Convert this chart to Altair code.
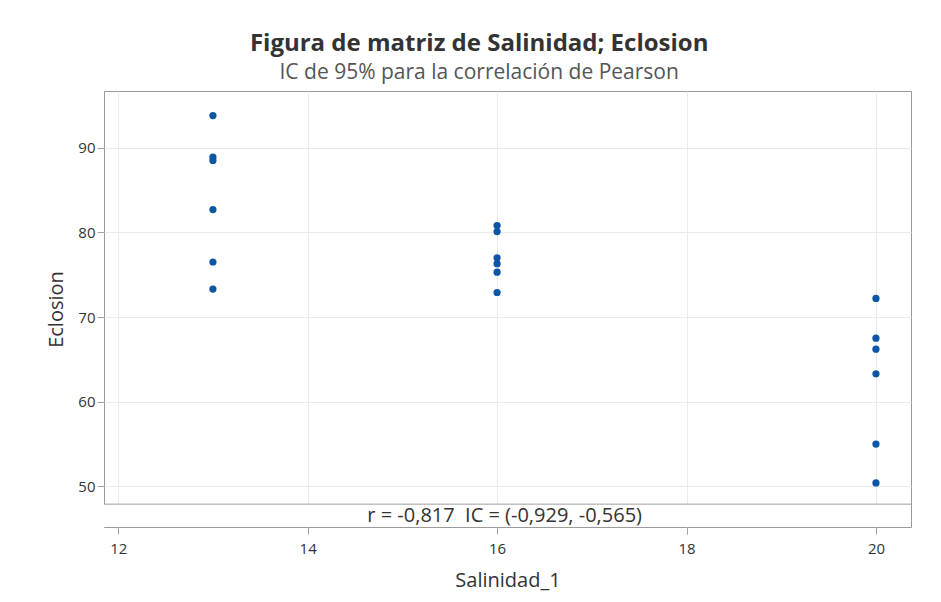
import altair as alt
import pandas as pd

salinidad = [13, 13, 13, 13, 13, 13,
             16, 16, 16, 16, 16, 16,
             20, 20, 20, 20, 20, 20]
eclosion = [93.8, 88.9, 88.5, 82.7, 76.5, 73.3,
            80.8, 80.1, 77.0, 76.3, 75.3, 72.9,
            72.2, 67.5, 66.2, 63.3, 55.0, 50.4]

x_ticks = [12, 14, 16, 18, 20]
y_ticks = [50, 60, 70, 80, 90]
x_domain = [11.85, 20.37]
y_domain = [45.2, 96.7]
box_top = 47.9
annot_text = "r = -0,817\u00a0\u00a0IC = (-0,929, -0,565)"
annot_x = 16.08

FONT = "Open Sans"

df = pd.DataFrame({"Salinidad_1": salinidad, "Eclosion": eclosion})
box_df = pd.DataFrame({"x": [x_domain[0]], "x2": [x_domain[1]],
                       "y": [y_domain[0]], "y2": [box_top]})
txt_df = pd.DataFrame({"x": [annot_x], "y": [(y_domain[0] + box_top) / 2],
                       "t": [annot_text]})

xs = alt.Scale(domain=x_domain, nice=False, zero=False)
ys = alt.Scale(domain=y_domain, nice=False, zero=False)

xax = alt.Axis(values=x_ticks, title="Salinidad_1", grid=True, domain=False,
               tickSize=7, labelPadding=7, titlePadding=14, format="d")
yax = alt.Axis(values=y_ticks, title="Eclosion", grid=True, domain=False,
               tickSize=7, labelPadding=2, titlePadding=11, format="d")

points = alt.Chart(df).mark_circle(size=52, opacity=1, color="#0b56a5").encode(
    x=alt.X("Salinidad_1:Q", scale=xs, axis=xax),
    y=alt.Y("Eclosion:Q", scale=ys, axis=yax),
)

box = alt.Chart(box_df).mark_rect(fill="white").encode(
    x=alt.X("x:Q", scale=xs), x2="x2:Q",
    y=alt.Y("y:Q", scale=ys), y2="y2:Q",
)

rule = alt.Chart(box_df).mark_rule(color="#a0a0a0", strokeWidth=1).encode(
    x=alt.X("x:Q", scale=xs), x2="x2:Q",
    y=alt.Y("y2:Q", scale=ys),
)

txt = alt.Chart(txt_df).mark_text(font=FONT, fontSize=20, color="#333333",
                                  baseline="middle", align="center").encode(
    x=alt.X("x:Q", scale=xs), y=alt.Y("y:Q", scale=ys), text="t:N",
)

chart = alt.layer(box, rule, txt, points).properties(
    width=807, height=436,
    background="white",
    padding={"left": 38, "top": 24, "right": 20, "bottom": 2},
    title=alt.TitleParams(
        text="Figura de matriz de Salinidad; Eclosion",
        subtitle="IC de 95% para la correlación de Pearson",
        anchor="middle", frame="bounds",
        font=FONT, fontSize=24, fontWeight="bold", color="#333333",
        subtitleFont=FONT, subtitleFontSize=21, subtitleColor="#555555",
        subtitlePadding=6, offset=8,
    ),
).configure_view(
    stroke="#9a9a9a", strokeWidth=1
).configure_axis(
    labelFont=FONT, labelFontSize=15, labelColor="#333333",
    titleFont=FONT, titleFontSize=20, titleFontWeight="normal", titleColor="#333333",
    tickColor="#a0a0a0", gridColor="#ebebeb", gridWidth=1,
)

chart.save("out.html", embed_options={"renderer": "svg", "actions": False})
